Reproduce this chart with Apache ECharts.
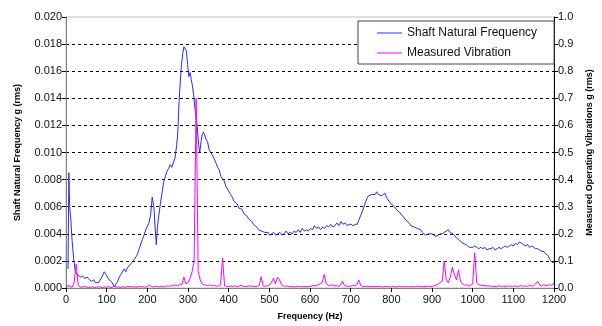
<!DOCTYPE html>
<html>
<head>
<meta charset="utf-8">
<script src="https://cdn.jsdelivr.net/npm/echarts@6/dist/echarts.min.js"></script>
<style>
  html, body { margin: 0; padding: 0; background: #fff; }
  #chart { width: 602px; height: 326px; }
</style>
</head>
<body>
<div id="chart"></div>
<script>
// Shaft natural frequency (left axis, g rms)
const shaftFreq = [
  5, 7, 9, 12, 15, 19, 23, 27, 31, 36, 41, 46, 52, 58, 63, 68, 72, 76, 80, 84,
  88, 91, 94, 98, 102, 106, 111, 115, 119, 123, 127, 131, 135, 139, 143, 147, 151, 155, 160, 164,
  168, 172, 176, 180, 184, 188, 192, 196, 200, 204, 208, 212, 216, 219, 222, 225, 228, 232, 236, 240,
  244, 248, 252, 256, 260, 264, 268, 272, 275, 278, 281, 284, 287, 290, 293, 296, 299, 302, 305, 308,
  311, 314, 317, 320, 323, 326, 329, 332, 335, 338, 341, 344, 348, 352, 356, 360, 365, 369, 373, 377,
  381, 385, 389, 393, 397, 401, 405, 409, 413, 417, 421, 425, 429, 433, 437, 441, 445, 449, 453, 457,
  461, 465, 469, 473, 477, 481, 485, 489, 493, 497, 501, 506, 511, 516, 521, 526, 531, 536, 541, 546,
  551, 556, 561, 566, 571, 576, 581, 586, 591, 596, 601, 606, 611, 616, 621, 626, 631, 636, 641, 646,
  651, 656, 661, 666, 671, 676, 681, 686, 691, 696, 701, 706, 711, 716, 720, 724, 728, 732, 736, 740,
  744, 748, 752, 756, 760, 764, 768, 772, 776, 780, 784, 788, 792, 796, 800, 804, 808, 812, 816, 820,
  824, 828, 832, 836, 840, 844, 848, 852, 856, 860, 864, 868, 872, 876, 880, 884, 888, 892, 896, 900,
  905, 910, 915, 920, 925, 930, 935, 940, 944, 948, 952, 956, 960, 964, 968, 972, 976, 980, 984, 988,
  992, 996, 1000, 1005, 1010, 1015, 1020, 1025, 1030, 1035, 1040, 1045, 1050, 1055, 1060, 1065, 1070, 1075, 1080, 1085,
  1090, 1095, 1100, 1105, 1110, 1115, 1120, 1125, 1130, 1135, 1140, 1145, 1150, 1155, 1160, 1165, 1170, 1175, 1180, 1185,
  1190, 1195, 1200
];
const shaftValue = [
  0.0014, 0.0085, 0.0060, 0.0050, 0.0035, 0.0021, 0.0012, 0.0010, 0.0009, 0.0008, 0.0009, 0.0007, 0.0008, 0.0006, 0.0005, 0.0006, 0.0004, 0.0005, 0.0004, 0.0006,
  0.0008, 0.0010, 0.0012, 0.0010, 0.0008, 0.0006, 0.0005, 0.0003, 0.0001, 0.0003, 0.0005, 0.0008, 0.0010, 0.0009, 0.0014, 0.0012, 0.0015, 0.0014, 0.0018, 0.0017,
  0.0021, 0.0023, 0.0025, 0.0029, 0.0028, 0.0036, 0.0039, 0.0043, 0.0044, 0.0048, 0.0054, 0.0067, 0.0060, 0.0045, 0.0032, 0.0046, 0.0053, 0.0062, 0.0070, 0.0078,
  0.0082, 0.0086, 0.0088, 0.0091, 0.0089, 0.0088, 0.0096, 0.0105, 0.0115, 0.0138, 0.0152, 0.0165, 0.0173, 0.0178, 0.0179, 0.0175, 0.0165, 0.0156, 0.0159, 0.0154,
  0.0149, 0.0142, 0.0133, 0.0126, 0.0118, 0.0106, 0.0100, 0.0108, 0.0113, 0.0115, 0.0113, 0.0110, 0.0108, 0.0102, 0.0100, 0.0098, 0.0095, 0.0092, 0.0089, 0.0087,
  0.0082, 0.0081, 0.0079, 0.0075, 0.0075, 0.0071, 0.0069, 0.0067, 0.0064, 0.0063, 0.0062, 0.0059, 0.0060, 0.0058, 0.0055, 0.0054, 0.0053, 0.0051, 0.0050, 0.0049,
  0.0047, 0.0046, 0.0045, 0.0043, 0.0044, 0.0042, 0.0043, 0.0041, 0.0040, 0.0041, 0.0039, 0.0040, 0.0041, 0.0039, 0.0040, 0.0041, 0.0039, 0.0040, 0.0042, 0.0040,
  0.0041, 0.0040, 0.0042, 0.0041, 0.0043, 0.0041, 0.0044, 0.0042, 0.0043, 0.0042, 0.0044, 0.0043, 0.0046, 0.0044, 0.0045, 0.0043, 0.0045, 0.0044, 0.0046, 0.0045,
  0.0047, 0.0045, 0.0046, 0.0048, 0.0046, 0.0049, 0.0047, 0.0048, 0.0046, 0.0047, 0.0047, 0.0046, 0.0047, 0.0047, 0.0050, 0.0053, 0.0056, 0.0059, 0.0063, 0.0066,
  0.0068, 0.0067, 0.0069, 0.0070, 0.0069, 0.0071, 0.0069, 0.0070, 0.0068, 0.0069, 0.0070, 0.0067, 0.0065, 0.0064, 0.0062, 0.0061, 0.0060, 0.0058, 0.0058, 0.0056,
  0.0055, 0.0053, 0.0052, 0.0050, 0.0049, 0.0048, 0.0046, 0.0046, 0.0045, 0.0044, 0.0044, 0.0043, 0.0043, 0.0041, 0.0040, 0.0039, 0.0040, 0.0040, 0.0039, 0.0040,
  0.0039, 0.0038, 0.0039, 0.0040, 0.0040, 0.0041, 0.0042, 0.0043, 0.0041, 0.0042, 0.0040, 0.0039, 0.0037, 0.0036, 0.0035, 0.0034, 0.0033, 0.0032, 0.0032, 0.0031,
  0.0030, 0.0031, 0.0030, 0.0031, 0.0030, 0.0029, 0.0030, 0.0029, 0.0030, 0.0028, 0.0029, 0.0029, 0.0030, 0.0028, 0.0029, 0.0030, 0.0029, 0.0030, 0.0031, 0.0030,
  0.0031, 0.0032, 0.0031, 0.0033, 0.0032, 0.0034, 0.0033, 0.0032, 0.0031, 0.0032, 0.0030, 0.0031, 0.0030, 0.0029, 0.0029, 0.0028, 0.0027, 0.0027, 0.0025, 0.0024,
  0.0021, 0.0019, 0.0019
];

// Measured vibration (right axis, g rms), one reading every 5 Hz from 0 to 1200
const vibStep = 5;
const vibValue = [
  0.000, 0.010, 0.005, 0.003, 0.020, 0.088, 0.010, 0.004, 0.003, 0.006, 0.004, 0.002, 0.003, 0.004, 0.002, 0.003, 0.005, 0.003, 0.002, 0.004,
  0.003, 0.005, 0.002, 0.004, 0.006, 0.003, 0.004, 0.002, 0.005, 0.003, 0.004, 0.006, 0.003, 0.005, 0.004, 0.003, 0.006, 0.004, 0.005, 0.003,
  0.006, 0.012, 0.005, 0.004, 0.006, 0.005, 0.004, 0.007, 0.005, 0.006, 0.008, 0.006, 0.010, 0.007, 0.012, 0.008, 0.015, 0.012, 0.040, 0.015,
  0.020, 0.035, 0.060, 0.100, 0.700, 0.060, 0.030, 0.015, 0.012, 0.010, 0.008, 0.012, 0.007, 0.010, 0.006, 0.008, 0.012, 0.110, 0.008, 0.006,
  0.005, 0.007, 0.006, 0.008, 0.005, 0.006, 0.010, 0.007, 0.005, 0.006, 0.008, 0.006, 0.007, 0.005, 0.006, 0.009, 0.042, 0.007, 0.006, 0.008,
  0.010, 0.020, 0.035, 0.015, 0.040, 0.030, 0.012, 0.008, 0.006, 0.007, 0.005, 0.006, 0.004, 0.005, 0.007, 0.005, 0.006, 0.004, 0.006, 0.005,
  0.006, 0.008, 0.010, 0.007, 0.012, 0.015, 0.020, 0.050, 0.015, 0.010, 0.008, 0.012, 0.007, 0.009, 0.006, 0.010, 0.025, 0.008, 0.007, 0.006,
  0.007, 0.010, 0.008, 0.012, 0.030, 0.008, 0.006, 0.005, 0.007, 0.005, 0.006, 0.004, 0.006, 0.005, 0.007, 0.005, 0.004, 0.006, 0.005, 0.004,
  0.005, 0.006, 0.004, 0.005, 0.007, 0.004, 0.005, 0.006, 0.004, 0.005, 0.006, 0.004, 0.005, 0.007, 0.005, 0.004, 0.006, 0.005, 0.007, 0.006,
  0.006, 0.008, 0.010, 0.015, 0.020, 0.025, 0.100, 0.030, 0.020, 0.040, 0.077, 0.050, 0.030, 0.067, 0.025, 0.015, 0.010, 0.012, 0.008, 0.010,
  0.015, 0.130, 0.020, 0.012, 0.010, 0.008, 0.010, 0.007, 0.008, 0.006, 0.007, 0.005, 0.006, 0.008, 0.006, 0.007, 0.005, 0.008, 0.006, 0.007,
  0.006, 0.008, 0.005, 0.007, 0.009, 0.006, 0.008, 0.006, 0.010, 0.007, 0.008, 0.015, 0.025, 0.010, 0.008, 0.012, 0.009, 0.010, 0.012, 0.010,
  0.020
];

const freqTicks = [0, 1200, 100];   // min, max, step
const leftTicks = [0, 0.02, 0.002];
const rightTicks = [0, 1, 0.1];

const chart = echarts.init(document.getElementById('chart'));

const shaftData = shaftFreq.map((f, i) => [f, shaftValue[i]]);
const vibData = vibValue.map((v, i) => [i * vibStep, v]);

const font = 'Liberation Sans, Arial, sans-serif';
const nameStyle = { fontSize: 9, fontWeight: 'bold', color: '#000', fontFamily: font };

chart.setOption({
  animation: false,
  textStyle: { fontFamily: font },
  grid: {
    left: 66, right: 41, top: 17, bottom: 37,
    show: true, borderColor: '#c0c0c0', borderWidth: 1, backgroundColor: '#fff'
  },
  legend: {
    orient: 'vertical',
    left: 358, top: 21,
    padding: [5, 17, 4, 19],
    itemGap: 6,
    itemWidth: 25, itemHeight: 1,
    icon: 'rect',
    backgroundColor: '#fff',
    borderColor: '#444', borderWidth: 1,
    textStyle: { fontSize: 12, color: '#111', fontFamily: font, lineHeight: 14 },
    data: ['Shaft Natural Frequency', 'Measured Vibration']
  },
  xAxis: {
    type: 'value',
    min: freqTicks[0], max: freqTicks[1], interval: freqTicks[2],
    name: 'Frequency (Hz)', nameLocation: 'middle', nameGap: 24,
    nameTextStyle: nameStyle,
    axisLine: { lineStyle: { color: '#808080', width: 1 } },
    axisTick: { show: true, inside: false, length: 4, lineStyle: { color: '#000' } },
    axisLabel: { fontSize: 11, color: '#111', margin: 6, formatter: v => String(v) },
    splitLine: { show: false }
  },
  yAxis: [
    {
      type: 'value', position: 'left',
      min: leftTicks[0], max: leftTicks[1], interval: leftTicks[2],
      name: 'Shaft Natural Frequency g (rms)', nameLocation: 'middle', nameGap: 44, nameRotate: 90,
      nameTextStyle: nameStyle,
      axisLine: { show: true, lineStyle: { color: '#808080', width: 1 } },
      axisTick: { show: true, inside: false, length: 4, lineStyle: { color: '#000' } },
      axisLabel: { fontSize: 11, color: '#111', margin: 4, formatter: v => v.toFixed(3) },
      splitLine: {
        show: true, showMinLine: false, showMaxLine: false,
        lineStyle: { color: '#000', type: [3, 3], width: 1 }
      }
    },
    {
      type: 'value', position: 'right',
      min: rightTicks[0], max: rightTicks[1], interval: rightTicks[2],
      name: 'Measured Operating Vibrations g (rms)', nameLocation: 'middle', nameGap: 31, nameRotate: 90,
      nameTextStyle: nameStyle,
      axisLine: { show: true, lineStyle: { color: '#000', width: 1 } },
      axisTick: { show: true, inside: false, length: 4, lineStyle: { color: '#000' } },
      axisLabel: { fontSize: 11, color: '#111', margin: 4, formatter: v => v.toFixed(1) },
      splitLine: { show: false }
    }
  ],
  series: [
    {
      name: 'Shaft Natural Frequency',
      type: 'line', yAxisIndex: 0,
      data: shaftData,
      showSymbol: false, symbol: 'none',
      itemStyle: { color: '#2a2aff' },
      lineStyle: { color: '#2a2aff', width: 1 },
      z: 2
    },
    {
      name: 'Measured Vibration',
      type: 'line', yAxisIndex: 1,
      data: vibData,
      showSymbol: false, symbol: 'none',
      itemStyle: { color: '#ff00ff' },
      lineStyle: { color: '#ff00ff', width: 1 },
      z: 3
    }
  ]
});

window.addEventListener('resize', () => chart.resize());
</script>
</body>
</html>
